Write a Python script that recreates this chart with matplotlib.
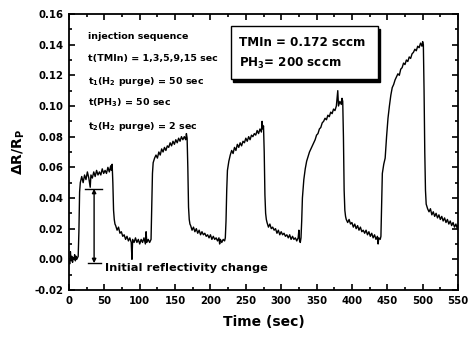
import matplotlib
matplotlib.use('Agg')
import matplotlib.pyplot as plt
from matplotlib.patches import Rectangle
from matplotlib.ticker import MultipleLocator, FormatStrFormatter

plt.rcParams['font.family'] = ['DejaVu Sans']
plt.rcParams['font.weight'] = 'bold'
plt.rcParams['axes.unicode_minus'] = False
plt.rcParams['mathtext.fontset'] = 'dejavusans'
plt.rcParams['mathtext.default'] = 'bf'

# Reflectivity transient as (time [s], dR/Rp)
baseline = [(0, 0.000), (1, -0.003), (2, 0.005), (3, -0.001), (4, 0.002), (5, -0.002),
            (6, 0.001), (7, 0.000), (8, 0.003), (9, -0.001), (10, 0.002), (11, 0.000),
            (12, 0.001), (13, 0.002)]

cycle_1 = [(14, 0.018), (15, 0.044), (16, 0.050), (17, 0.052), (18, 0.054), (20, 0.050),
           (22, 0.055), (24, 0.052), (26, 0.057), (28, 0.053), (30, 0.047), (31, 0.055),
           (33, 0.053), (35, 0.057), (37, 0.054), (39, 0.058), (41, 0.055), (43, 0.057),
           (45, 0.055), (47, 0.059), (49, 0.056), (51, 0.058), (53, 0.056), (55, 0.060),
           (57, 0.057), (59, 0.061), (60, 0.058), (61, 0.062),
           (62, 0.050), (63, 0.032), (64, 0.026), (65, 0.023),
           (66, 0.022), (68, 0.019), (70, 0.021), (72, 0.017), (74, 0.018), (76, 0.015),
           (78, 0.016), (80, 0.013), (82, 0.015), (84, 0.012), (86, 0.014), (88, 0.011),
           (89, 0.000), (90, 0.013), (92, 0.011), (94, 0.014), (96, 0.011), (98, 0.013),
           (100, 0.010), (102, 0.013), (104, 0.011), (106, 0.014), (108, 0.010), (109, 0.018),
           (110, 0.011), (112, 0.013), (114, 0.011), (116, 0.013)]

cycle_2 = [(117, 0.035), (118, 0.056), (119, 0.063), (121, 0.066), (123, 0.068), (125, 0.066),
           (127, 0.070), (129, 0.068), (131, 0.072), (133, 0.070), (135, 0.073), (137, 0.071),
           (139, 0.074), (141, 0.073), (143, 0.076), (145, 0.074), (147, 0.077), (149, 0.075),
           (151, 0.078), (153, 0.076), (155, 0.079), (157, 0.077), (159, 0.080), (161, 0.078),
           (163, 0.080), (165, 0.078), (166, 0.082), (167, 0.079),
           (168, 0.060), (169, 0.034), (170, 0.026), (171, 0.023),
           (172, 0.022), (174, 0.019), (176, 0.021), (178, 0.018), (180, 0.020), (182, 0.017),
           (184, 0.019), (186, 0.016), (188, 0.018), (190, 0.016), (192, 0.017), (194, 0.015),
           (196, 0.016), (198, 0.014), (200, 0.016), (202, 0.013), (204, 0.015), (206, 0.013),
           (208, 0.014), (210, 0.012), (212, 0.014), (213, 0.010), (214, 0.013), (216, 0.011),
           (218, 0.013), (220, 0.012), (221, 0.014)]

cycle_3 = [(222, 0.025), (223, 0.045), (224, 0.058), (226, 0.064), (228, 0.068), (230, 0.071),
           (232, 0.069), (234, 0.073), (236, 0.071), (238, 0.075), (240, 0.073), (242, 0.076),
           (244, 0.074), (246, 0.077), (248, 0.076), (250, 0.079), (252, 0.077), (254, 0.080),
           (256, 0.078), (258, 0.081), (260, 0.080), (262, 0.082), (264, 0.081), (266, 0.084),
           (268, 0.082), (270, 0.085), (272, 0.083), (273, 0.090), (274, 0.085), (275, 0.087),
           (276, 0.070), (277, 0.042), (278, 0.030), (279, 0.026),
           (280, 0.024), (282, 0.021), (284, 0.023), (286, 0.020), (288, 0.021), (290, 0.019),
           (292, 0.020), (294, 0.017), (296, 0.019), (298, 0.016), (300, 0.018), (302, 0.016),
           (304, 0.017), (306, 0.015), (308, 0.016), (310, 0.014), (312, 0.016), (314, 0.013),
           (316, 0.015), (318, 0.013), (320, 0.014), (322, 0.012), (324, 0.014), (325, 0.019),
           (326, 0.012), (327, 0.011), (328, 0.014)]

cycle_4 = [(329, 0.025), (330, 0.040), (332, 0.052), (334, 0.059), (336, 0.064), (338, 0.067),
           (340, 0.070), (342, 0.072), (344, 0.074), (346, 0.076), (348, 0.078), (350, 0.081),
           (352, 0.082), (354, 0.085), (356, 0.086), (358, 0.089), (360, 0.090), (362, 0.092),
           (364, 0.091), (366, 0.094), (368, 0.093), (370, 0.096), (372, 0.095), (374, 0.098),
           (376, 0.097), (378, 0.100), (380, 0.110), (381, 0.100), (383, 0.103), (385, 0.101),
           (386, 0.105), (387, 0.103),
           (388, 0.080), (389, 0.045), (390, 0.032), (391, 0.028),
           (392, 0.026), (394, 0.024), (396, 0.026), (398, 0.023), (400, 0.024), (402, 0.021),
           (404, 0.023), (406, 0.020), (408, 0.022), (410, 0.019), (412, 0.021), (414, 0.018),
           (416, 0.019), (418, 0.017), (420, 0.019), (422, 0.016), (424, 0.018), (426, 0.015),
           (428, 0.017), (430, 0.014), (432, 0.016), (434, 0.013), (436, 0.015), (437, 0.010),
           (438, 0.014), (440, 0.013), (441, 0.015)]

cycle_5 = [(442, 0.035), (443, 0.056), (445, 0.062), (447, 0.066), (449, 0.080), (451, 0.092),
           (453, 0.100), (455, 0.107), (457, 0.112), (459, 0.114), (461, 0.117), (463, 0.119),
           (465, 0.121), (467, 0.120), (469, 0.124), (471, 0.125), (473, 0.128), (475, 0.127),
           (477, 0.130), (479, 0.129), (481, 0.132), (483, 0.131), (485, 0.134), (487, 0.135),
           (489, 0.137), (491, 0.136), (493, 0.139), (495, 0.138), (497, 0.141), (499, 0.139),
           (500, 0.142), (501, 0.140),
           (502, 0.110), (503, 0.070), (504, 0.045), (505, 0.036), (507, 0.033),
           (509, 0.031), (511, 0.033), (513, 0.029), (515, 0.031), (517, 0.028), (519, 0.030),
           (521, 0.027), (523, 0.029), (525, 0.026), (527, 0.028), (529, 0.025), (531, 0.027),
           (533, 0.024), (535, 0.026), (537, 0.023), (539, 0.025), (541, 0.022), (543, 0.024),
           (545, 0.021), (547, 0.023), (549, 0.020), (550, 0.022)]

sequence_lines = ['injection sequence',
                  't(TMIn) = 1,3,5,9,15 sec',
                  't$_1$(H$_2$ purge) = 50 sec',
                  't(PH$_3$) = 50 sec',
                  't$_2$(H$_2$ purge) = 2 sec']
flow_lines = ['TMIn = 0.172 sccm', 'PH$_3$= 200 sccm']

# Initial reflectivity change marker (time, top, bottom)
step_time = 35.5
step_top = 0.046
step_bottom = -0.0025

trace = baseline + cycle_1 + cycle_2 + cycle_3 + cycle_4 + cycle_5
time_s = [p[0] for p in trace]
delta_r = [p[1] for p in trace]

fig = plt.figure(figsize=(4.7, 3.37), dpi=100)
ax = fig.add_axes([0.1468, 0.1395, 0.8277, 0.819])

ax.plot(time_s, delta_r, color='black', linewidth=1.0)

ax.set_xlim(0, 550)
ax.set_ylim(-0.02, 0.16)
ax.xaxis.set_major_locator(MultipleLocator(50))
ax.xaxis.set_minor_locator(MultipleLocator(25))
ax.yaxis.set_major_locator(MultipleLocator(0.02))
ax.yaxis.set_minor_locator(MultipleLocator(0.01))
ax.yaxis.set_major_formatter(FormatStrFormatter('%.2f'))

ax.tick_params(which='both', direction='in', top=True, right=True, width=1.2)
ax.tick_params(which='major', length=4.5, labelsize=7.3, pad=4)
ax.tick_params(which='minor', length=2.5)
for lbl in ax.get_xticklabels() + ax.get_yticklabels():
    lbl.set_fontweight('bold')
for sp in ax.spines.values():
    sp.set_linewidth(1.3)

ax.set_xlabel('Time (sec)', fontsize=10, fontweight='bold', labelpad=7)
ax.set_ylabel(r'$\Delta$R/R$_P$', fontsize=10, fontweight='bold', labelpad=5)

# sequence description
seq_y = [0.920, 0.837, 0.757, 0.678, 0.594]
for txt, yy in zip(sequence_lines, seq_y):
    ax.text(0.049, yy, txt, transform=ax.transAxes, fontsize=6.8,
            fontweight='bold', va='center', ha='left')

# boxed flow rates with a drop shadow
ax.add_patch(Rectangle((0.422, 0.754), 0.378, 0.193, transform=ax.transAxes,
                       facecolor='black', edgecolor='black', zorder=4))
ax.add_patch(Rectangle((0.416, 0.764), 0.378, 0.193, transform=ax.transAxes,
                       facecolor='white', edgecolor='black', linewidth=1.0, zorder=5))
for txt, yy in zip(flow_lines, [0.895, 0.822]):
    ax.text(0.437, yy, txt, transform=ax.transAxes, fontsize=8.6,
            fontweight='bold', va='center', ha='left', zorder=6)

# initial reflectivity change marker
ax.plot([22, 47], [step_top, step_top], color='black', linewidth=1.0)
ax.plot([27, 45], [step_bottom, step_bottom], color='black', linewidth=1.0)
ax.annotate('', xy=(step_time, step_top), xytext=(step_time, step_bottom),
            arrowprops=dict(arrowstyle='<|-|>', color='black', lw=1.0,
                            mutation_scale=6, shrinkA=0, shrinkB=0))
ax.text(51, -0.0057, 'Initial reflectivity change', fontsize=8.2,
        fontweight='bold', va='center', ha='left')

fig.savefig('out.png', dpi=100)
